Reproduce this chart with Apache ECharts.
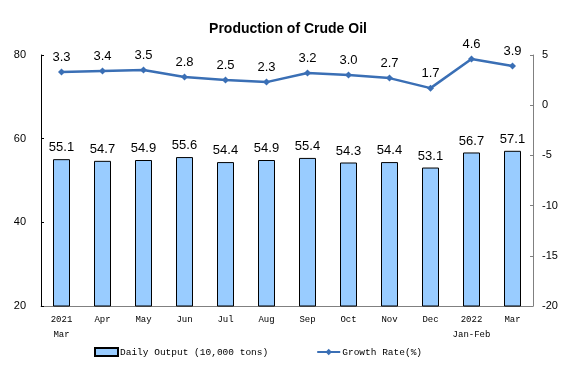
<!DOCTYPE html>
<html><head><meta charset="utf-8">
<script src="https://cdn.jsdelivr.net/npm/echarts@6/dist/echarts.min.js"></script>
<style>html,body{margin:0;padding:0;background:#fff}#c{width:576px;height:384px}</style>
</head><body><div id="c"></div>
<script>
var categories = ['2021\nMar','Apr','May','Jun','Jul','Aug','Sep','Oct','Nov','Dec','2022\nJan-Feb','Mar'];
var dailyOutput = [55.1,54.7,54.9,55.6,54.4,54.9,55.4,54.3,54.4,53.1,56.7,57.1];
var growthRate = [3.3,3.4,3.5,2.8,2.5,2.3,3.2,3.0,2.7,1.7,4.6,3.9];
var leftTicks = [20,80,20];   // min, max, interval
var rightTicks = [-20,5,5];

var chart = echarts.init(document.getElementById('c'), null, {renderer:'canvas'});
var mono = '"Liberation Mono", "DejaVu Sans Mono", monospace';
chart.setOption({
  animation:false,
  title:{text:'Production of Crude Oil', left:'center', top:17,
    textStyle:{fontFamily:'Arial, "Liberation Sans", sans-serif', fontSize:14, fontWeight:'bold', color:'#000'}},
  grid:{left:41, right:43, top:55, bottom:78},
  legend:{left:94, top:347, padding:0, itemGap:48, itemWidth:23, itemHeight:8,
    textStyle:{fontFamily:mono, fontSize:9.5, color:'#000', padding:[0,0,0,-3]},
    data:[{name:'Daily Output (10,000 tons)', icon:'rect'},{name:'Growth Rate(%)'}]},
  xAxis:{type:'category', data:categories,
    axisLine:{onZero:false, lineStyle:{color:'#808080'}},
    axisTick:{inside:true, length:3, lineStyle:{color:'#808080'}},
    axisLabel:{fontFamily:mono, fontSize:9, color:'#000', lineHeight:15, margin:6, interval:0}},
  yAxis:[
    {type:'value', min:leftTicks[0], max:leftTicks[1], interval:leftTicks[2],
      splitLine:{show:false},
      axisLine:{show:true, onZero:false, lineStyle:{color:'#000'}},
      axisTick:{show:true, inside:true, length:3, lineStyle:{color:'#000'}},
      axisLabel:{fontFamily:'Arial, "Liberation Sans", sans-serif', fontSize:11, color:'#000', margin:15}},
    {type:'value', min:rightTicks[0], max:rightTicks[1], interval:rightTicks[2],
      splitLine:{show:false},
      axisLine:{show:true, onZero:false, lineStyle:{color:'#808080'}},
      axisTick:{show:true, inside:true, length:3, lineStyle:{color:'#808080'}},
      axisLabel:{fontFamily:'Arial, "Liberation Sans", sans-serif', fontSize:11, color:'#000', margin:9}}
  ],
  series:[
    {name:'Daily Output (10,000 tons)', type:'bar', yAxisIndex:0, data:dailyOutput, barWidth:17,
      itemStyle:{color:'#99CCFF', borderColor:'#000', borderWidth:1},
      label:{show:true, position:'top', distance:5, color:'#000',
        fontFamily:'Arial, "Liberation Sans", sans-serif', fontSize:13,
        formatter:function(p){return p.value.toFixed(1);}}},
    {name:'Growth Rate(%)', type:'line', yAxisIndex:1, data:growthRate,
      symbol:'diamond', symbolSize:7,
      lineStyle:{color:'#3A6FB5', width:2.5},
      itemStyle:{color:'#3A6FB5'},
      label:{show:true, position:'top', distance:5, color:'#000',
        fontFamily:'Arial, "Liberation Sans", sans-serif', fontSize:13,
        formatter:function(p){return p.value.toFixed(1);}}}
  ]
});
</script></body></html>
